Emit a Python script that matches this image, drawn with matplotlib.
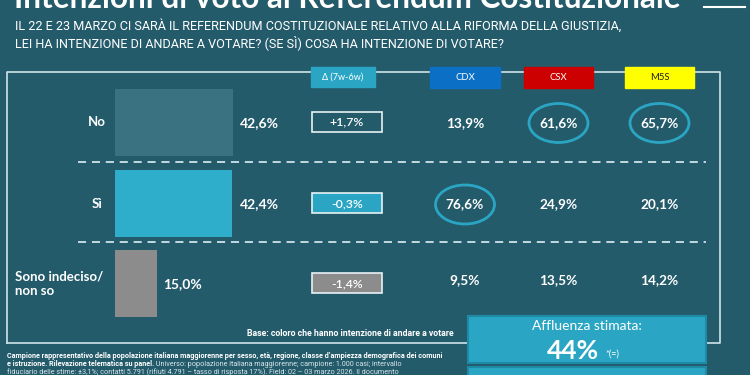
import matplotlib
matplotlib.use("Agg")
import matplotlib.pyplot as plt
from matplotlib.patches import Rectangle, Ellipse

# ---------------- data ----------------
title = "Intenzioni di voto al Referendum Costituzionale"
question = ["IL 22 E 23 MARZO CI SARÀ IL REFERENDUM COSTITUZIONALE RELATIVO ALLA RIFORMA DELLA GIUSTIZIA,",
            "LEI HA INTENZIONE DI ANDARE A VOTARE? (SE SÌ) COSA HA INTENZIONE DI VOTARE?"]
categories = ["No", "Sì", "Sono indeciso/\nnon so"]
values = [42.6, 42.4, 15.0]
value_labels = ["42,6%", "42,4%", "15,0%"]
delta_labels = ["+1,7%", "-0,3%", "-1,4%"]
parties = ["CDX", "CSX", "M5S"]
party_values = {
    "CDX": [13.9, 76.6, 9.5],
    "CSX": [61.6, 24.9, 13.5],
    "M5S": [65.7, 20.1, 14.2],
}
highlight = {"CDX": [False, True, False], "CSX": [True, False, False], "M5S": [True, False, False]}
delta_header = "Δ (7w-6w)"
base_note = "Base: coloro che hanno intenzione di andare a votare"
turnout_label = "Affluenza stimata:"
turnout_value = "44%"
turnout_note = "*(=)"

# ---------------- style ----------------
BG = "#245b6b"
LINE = "#cfe3ea"
ACCENT = "#2aa6c4"
bar_colors = ["#3a7282", "#2eaecb", "#8c8c8c"]
delta_fill = [None, "#2aa6c4", "#8c8c8c"]
party_colors = {"CDX": "#0b6fc6", "CSX": "#cc0000", "M5S": "#ffff00"}
party_text = {"CDX": "white", "CSX": "white", "M5S": "#222222"}
FONT = "Lato"

fig = plt.figure(figsize=(7.5, 3.75), dpi=100, facecolor=BG)
ax = fig.add_axes([0, 0, 1, 1])
ax.set_xlim(0, 750)
ax.set_ylim(375, 0)
ax.axis("off")
ax.set_facecolor(BG)

# title (cut off at top, as in the source image)
ax.text(14, 7.5, title, color="white", fontsize=22.7, fontweight="bold", family=FONT,
        va="baseline", ha="left")
ax.plot([704, 745], [7, 7], color="white", lw=1.5)

# question
for i, line in enumerate(question):
    ax.text(15, 26 + i * 16.5, line, color="white", fontsize=9.1, family="Roboto",
            va="center", ha="left")

# frame
ax.plot([7, 7, 720, 720, 706], [343, 72, 72, 343, 343], color=LINE, lw=1.2, zorder=1)
ax.plot([7, 468], [343, 343], color=LINE, lw=1.2, zorder=1)

# header boxes
ax.add_patch(Rectangle((311, 67), 64, 20, color=ACCENT, zorder=2))
ax.text(343, 77, delta_header, color="white", fontsize=6.5, family=FONT, ha="center", va="center", zorder=3)
party_x = {"CDX": (430, 500), "CSX": (524, 593), "M5S": (625, 694)}
for p in parties:
    x0, x1 = party_x[p]
    ax.add_patch(Rectangle((x0, 67), x1 - x0, 21, color=party_colors[p], zorder=2))
    ax.text((x0 + x1) / 2, 77.5, p, color=party_text[p], fontsize=6.8, family=FONT,
            ha="center", va="center", zorder=3)

# rows
row_y = [122, 203.5, 283.5]
bar_h = 67
# bar axes: scale 0..100 % from x=115 px to x=392 px
bax = fig.add_axes([115 / 750, 0, 277 / 750, 1])
bax.set_xlim(0, 100)
bax.set_ylim(375, 0)
bax.axis("off")
bax.patch.set_alpha(0)
bars = bax.barh(row_y, values, height=bar_h, color=bar_colors, zorder=2)

for i, (cat, v, vl, dl) in enumerate(zip(categories, values, value_labels, delta_labels)):
    y = row_y[i]
    if i < 2:
        ax.text(97, y, cat, color="white", fontsize=9.5, fontweight="bold", family=FONT,
                ha="center", va="center")
    else:
        ax.text(15, y, cat, color="white", fontsize=9.5, fontweight="bold", family=FONT,
                ha="left", va="center", linespacing=1.25)
    # value label right of bar
    xr = 115 + v * 2.77
    ax.text(xr + 7, y + 1, vl, color="white", fontsize=10, fontweight="bold", family=FONT,
            ha="left", va="center")
    # delta box
    fc = delta_fill[i] if delta_fill[i] else "none"
    ax.add_patch(Rectangle((312, y - 10.5), 70, 20, facecolor=fc, edgecolor="#e8f2f5", lw=1.2, zorder=2))
    ax.text(347, y, dl, color="white", fontsize=8.8, fontweight="semibold", family=FONT,
            ha="center", va="center", zorder=3)
    # party values
    for p in parties:
        cx = (party_x[p][0] + party_x[p][1]) / 2
        val = party_values[p][i]
        txt = f"{val:.1f}%".replace(".", ",")
        ty = y + 1 if i < 2 else y - 3
        ax.text(cx, ty, txt, color="white", fontsize=9.8, fontweight="bold", family=FONT,
                ha="center", va="center", zorder=3)
        if highlight[p][i]:
            ax.add_patch(Ellipse((cx, ty), 59, 39, fill=False, edgecolor=ACCENT, lw=2, zorder=3))

# dashed separators
for yy in [161.5, 241.5]:
    ax.plot([78, 706], [yy, yy], color=LINE, lw=1.3, dashes=(4.5, 3.2), zorder=1)

# base note
ax.text(454, 333, base_note, color="white", fontsize=6.3, fontweight="bold", family="Roboto",
        ha="right", va="center")

# turnout box
ax.add_patch(Rectangle((468, 316), 238, 47, facecolor=ACCENT, edgecolor="#1f8aa6", lw=1.5, zorder=4))
ax.text(587, 326, turnout_label, color="white", fontsize=10, family=FONT, ha="center", va="center", zorder=5)
ax.text(599, 351, turnout_value, color="white", fontsize=19, fontweight="bold", family=FONT,
        ha="right", va="center", zorder=5)
ax.text(605, 354, turnout_note, color="white", fontsize=6.5, family=FONT, ha="left", va="center", zorder=5)
ax.add_patch(Rectangle((468, 367), 238, 20, facecolor=ACCENT, edgecolor="#1f8aa6", lw=1.5, zorder=4))

# footnote
ax.text(7, 355.5, "Campione rappresentativo della popolazione italiana maggiorenne per sesso, età, regione, classe d’ampiezza demografica dei comuni",
        color="white", fontsize=5.2, fontweight="bold", family="Roboto", ha="left", va="center")
t1 = ax.text(7, 364.5, "e istruzione. Rilevazione telematica su panel.", color="white", fontsize=5.2,
             fontweight="bold", family="Roboto", ha="left", va="center")
ax.annotate(" Universo: popolazione italiana maggiorenne; campione: 1.000 casi; intervallo",
            xycoords=t1, xy=(1, 0.5), va="center", ha="left", color="#d8e6ea", fontsize=5.2, family="Roboto")
ax.text(7, 372.5, "fiduciario delle stime: ±3,1%; contatti 5.791 (rifiuti 4.791 – tasso di risposta 17%). Field: 02 – 03 marzo 2026. Il documento",
        color="#d8e6ea", fontsize=5.2, family="Roboto", ha="left", va="center")

fig.savefig("out.png", dpi=100, facecolor=BG)
